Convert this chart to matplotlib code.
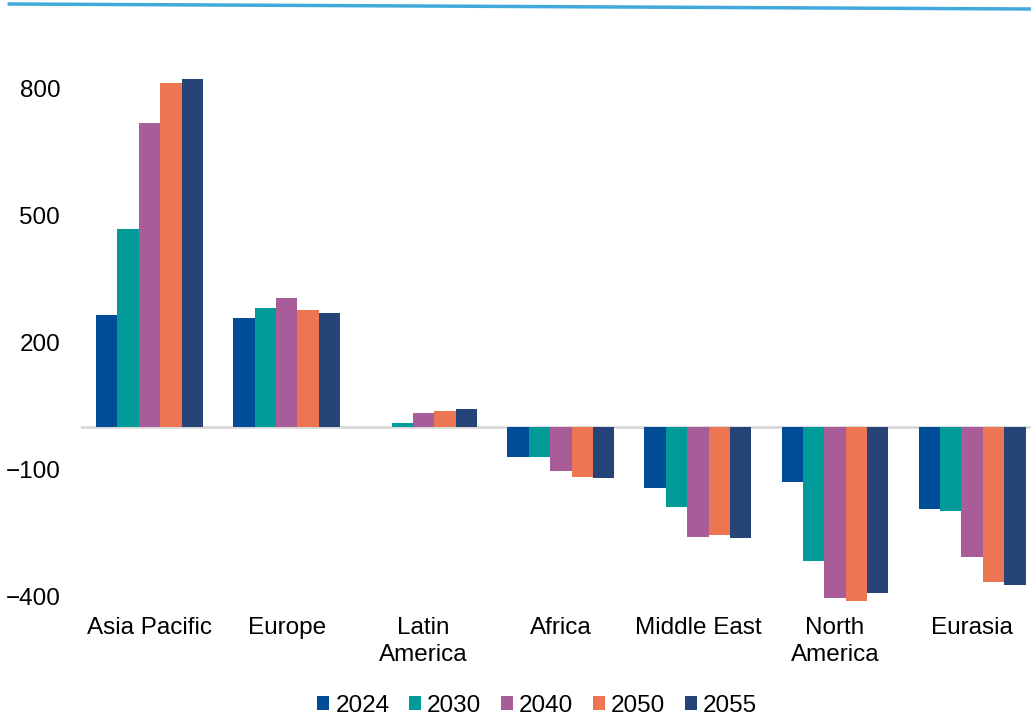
import numpy as np
import matplotlib
matplotlib.use("Agg")
import matplotlib.pyplot as plt
from matplotlib.lines import Line2D

plt.rcParams['font.family'] = ['Liberation Sans', 'DejaVu Sans']

regions = ['Asia Pacific', 'Europe', 'Latin\nAmerica', 'Africa', 'Middle East', 'North\nAmerica', 'Eurasia']
years = ['2024', '2030', '2040', '2050', '2055']
v2024 = [265, 257, 1, -71, -144, -130, -194]
v2030 = [468, 281, 9, -71, -189, -317, -198]
v2040 = [718, 305, 33, -104, -260, -404, -307]
v2050 = [813, 276, 38, -118, -255, -411, -366]
v2055 = [822, 269, 43, -120, -262, -392, -373]
colors = ['#004C97', '#009A98', '#A85C98', '#EC7652', '#264478']

series = [v2024, v2030, v2040, v2050, v2055]

fig = plt.figure(figsize=(10.31, 7.16), dpi=100)
ax = fig.add_axes([0.0786, 0.1494, 0.9214, 0.7745])

x = np.arange(len(regions))
w = 0.156
for i, vals in enumerate(series):
    ax.bar(x + (i - 2) * w, vals, w, color=colors[i], label=years[i], zorder=2)

ax.axhline(0, color='#D9D9D9', lw=2, zorder=1)
ax.set_xlim(-0.5, 6.43)
ax.set_ylim(-430, 880)
ax.set_yticks([-400, -100, 200, 500, 800])
ax.set_xticks(x)
ax.set_xticklabels(regions, linespacing=1.3)
ax.tick_params(axis='both', length=0, labelsize=17.5, colors='black')
ax.tick_params(axis='y', pad=15)
ax.tick_params(axis='x', pad=6)
for s in ax.spines.values():
    s.set_visible(False)

handles, labels = ax.get_legend_handles_labels()
fig.legend(handles, labels, loc='center', bbox_to_anchor=(537 / 1031, 1 - 706 / 716), ncol=5,
           frameon=False, fontsize=17.5, handlelength=0.5, handleheight=0.5,
           handletextpad=0.25, columnspacing=0.8)

# slide header line
fig.add_artist(Line2D([0.009, 1.0], [1 - 4 / 716, 1 - 9 / 716], color='#41A9DC', lw=2.5))

plt.savefig('out.png', dpi=100)
